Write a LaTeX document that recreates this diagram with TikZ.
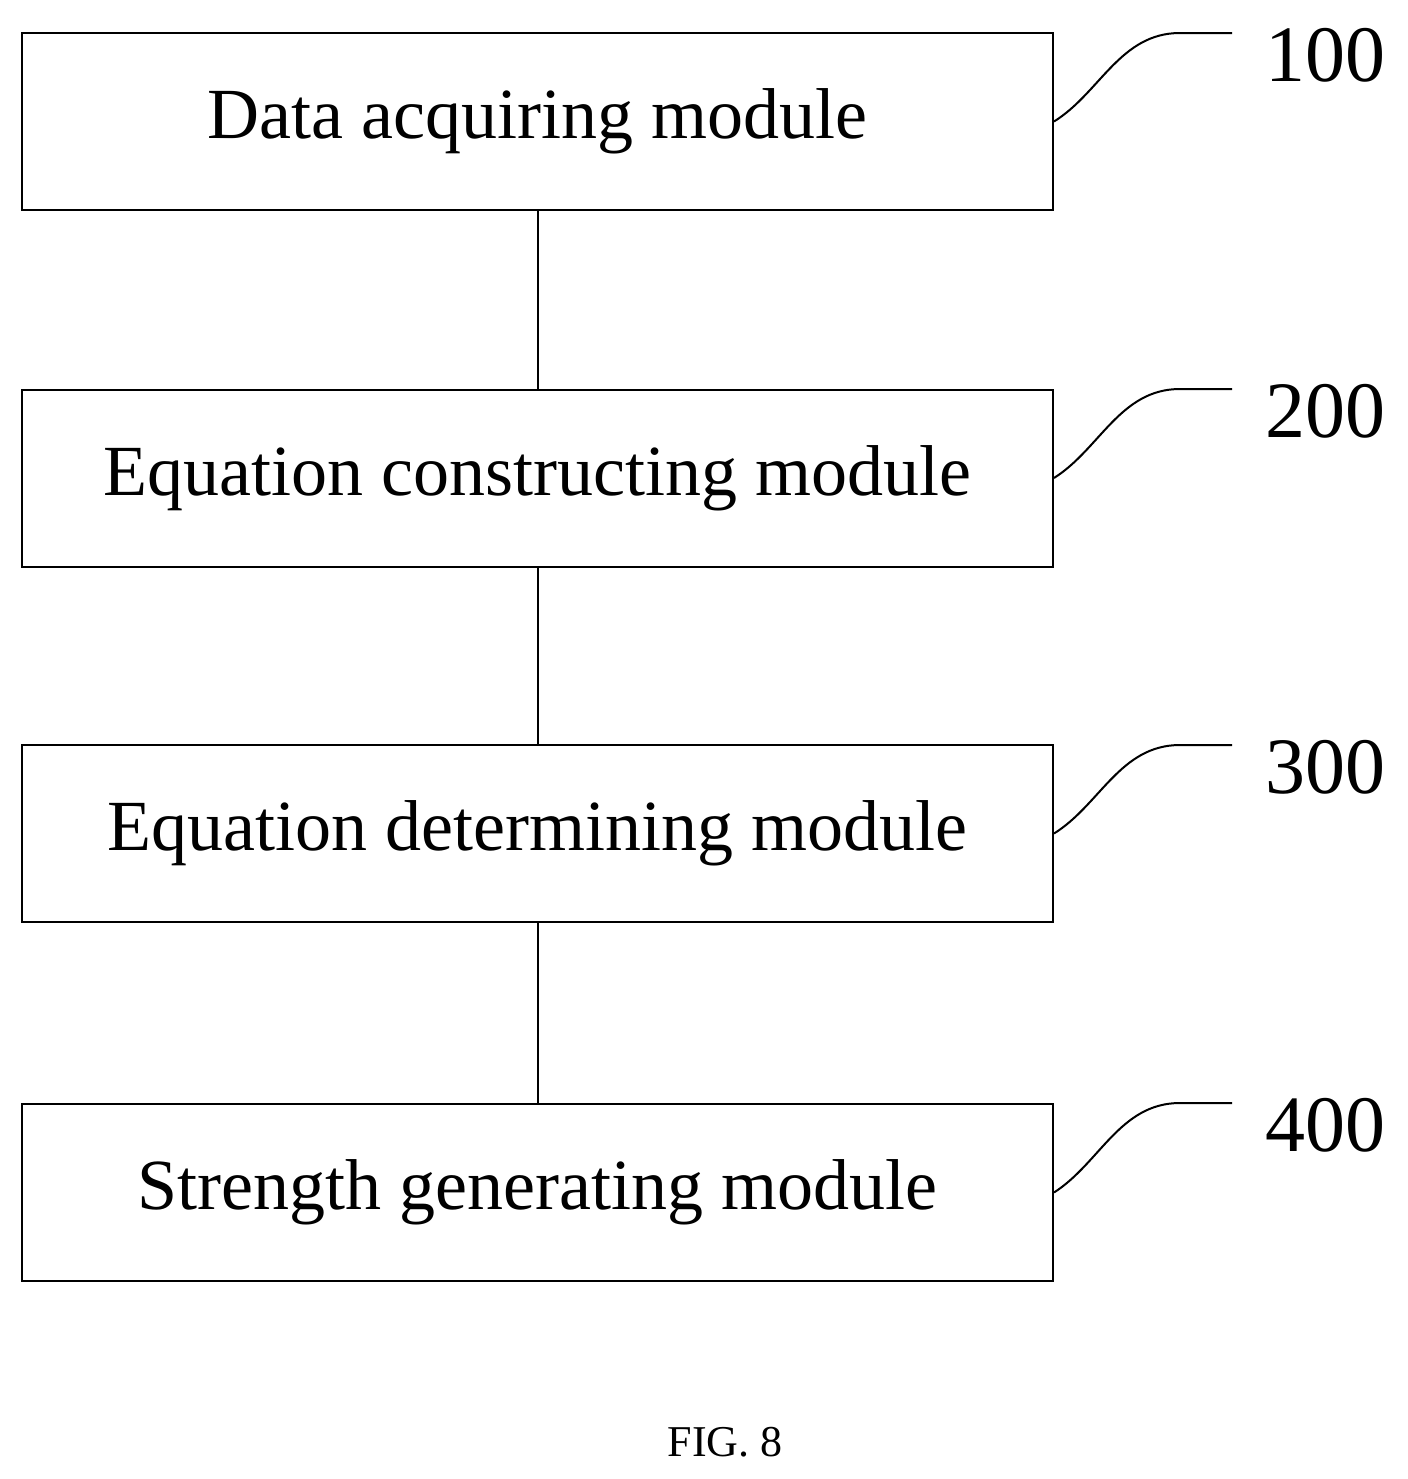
\documentclass[tikz,border=0pt]{standalone}
\usepackage{fontspec}
\setmainfont{Liberation Serif}
\begin{document}
\begin{tikzpicture}[x=0.5pt,y=-0.5pt,
  box/.style={draw,line width=1pt,minimum width=515.5pt,minimum height=88.5pt,inner sep=0pt,font=\fontsize{36}{40}\selectfont},
  lbl/.style={font=\fontsize{40}{44}\selectfont},
  lead/.style={line width=1pt}]
\useasboundingbox (0,0) rectangle (1408,1479);
\node[box] (b1) at (537.5,121.5) {Data acquiring module};
\node[box] (b2) at (537.5,478) {Equation constructing module};
\node[box] (b3) at (537.5,833.5) {Equation determining module};
\node[box] (b4) at (537.5,1192.5) {Strength generating module};
\draw[line width=1pt] (b1) -- (b2) (b2) -- (b3) (b3) -- (b4);
\foreach \i/\t/\y in {1/100/33,2/200/389,3/300/745,4/400/1103}{
  \coordinate (e\i) at (1232,\y);
  \node[lbl] (l\i) at (1325,\y+22) {\t};
  \draw[lead] (b\i.east) .. controls (1100,\y+60) and (1120,\y) .. (1180,\y) -- (e\i);
}
\node[font=\fontsize{22}{26}\selectfont] (fig) at (725,1442) {FIG. 8};
\end{tikzpicture}
\end{document}
